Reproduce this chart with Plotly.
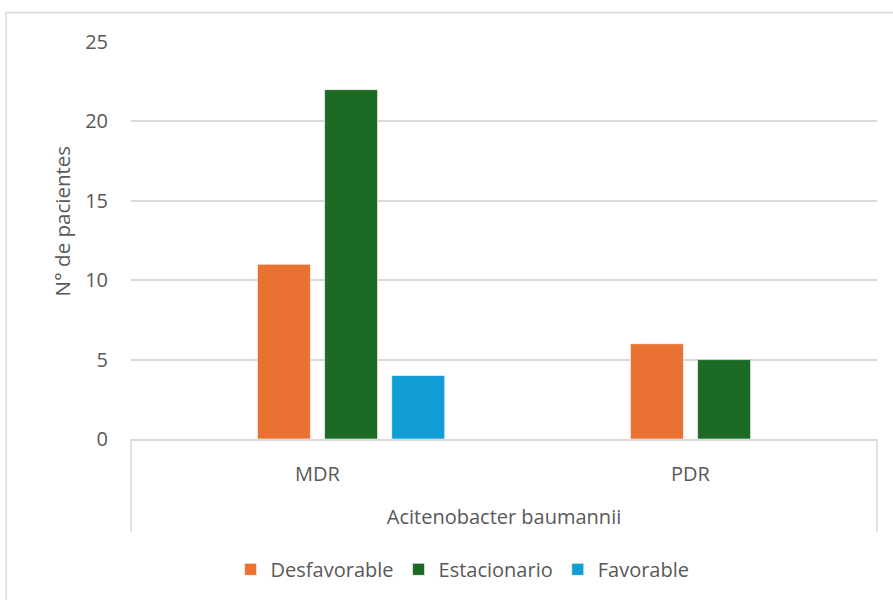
import plotly.graph_objects as go

# Resistance profile categories and the organism they belong to
organism = "Acitenobacter baumannii"
profiles = ["MDR", "PDR"]

# Number of patients per clinical evolution
desfavorable = [11, 6]
estacionario = [22, 5]
favorable = [4, None]

series = [
    ("Desfavorable", desfavorable, "#E97132"),
    ("Estacionario", estacionario, "#1B6B25"),
    ("Favorable", favorable, "#109ED5"),
]

TEXT = "#595959"
GRID = "#D9D9D9"
FONT = "Open Sans"
FS = 20

bar_w = 0.142
centers = [-0.09, 0.09, 0.27]

fig = go.Figure()
for (name, vals, color), c in zip(series, centers):
    fig.add_trace(go.Bar(
        x=profiles,
        y=vals,
        name=name,
        marker=dict(color=color, line=dict(color="rgba(255,255,255,0.6)", width=1)),
        width=bar_w,
        offset=c - bar_w / 2,
    ))

# category box under the plot: bottom axis line plus the two outer dividers
box_depth = -0.234
fig.update_layout(
    width=893, height=600,
    margin=dict(l=131, r=16, t=42, b=160),
    paper_bgcolor="white",
    plot_bgcolor="white",
    font=dict(family=FONT, size=FS, color=TEXT),
    barmode="overlay",
    showlegend=True,
    legend=dict(
        orientation="h",
        x=0.4445, xanchor="center",
        y=-0.325, yanchor="middle",
        font=dict(size=FS, color=TEXT),
        itemwidth=30,
        traceorder="normal",
    ),
    xaxis=dict(
        type="category",
        showgrid=False,
        showline=True, linecolor=GRID, linewidth=1.5,
        ticks="", ticklabelstandoff=16,
        tickfont=dict(size=FS, color=TEXT),
        title=dict(text=organism, standoff=24, font=dict(size=FS, color=TEXT)),
    ),
    yaxis=dict(
        range=[0, 25], dtick=5,
        showgrid=True, gridcolor=GRID, gridwidth=1.5,
        zeroline=False, showline=False,
        ticks="", ticklabelstandoff=22,
        tickfont=dict(size=FS, color=TEXT),
    ),
    shapes=[
        # outer chart frame
        dict(type="rect", xref="paper", yref="paper",
             x0=-0.1673, x1=1.05, y0=-0.45, y1=1.074,
             line=dict(color=GRID, width=1.5), fillcolor="rgba(0,0,0,0)", layer="below"),
        dict(type="line", xref="paper", yref="paper", x0=0, x1=0, y0=0, y1=box_depth,
             line=dict(color=GRID, width=1.5)),
        dict(type="line", xref="paper", yref="paper", x0=1, x1=1, y0=0, y1=box_depth,
             line=dict(color=GRID, width=1.5)),
    ],
    annotations=[
        dict(text="N° de pacientes", xref="paper", yref="paper",
             x=-0.092, y=0.549, textangle=-90, showarrow=False,
             font=dict(size=FS + 0.5, color=TEXT), xanchor="center", yanchor="middle"),
    ],
)

fig.write_html("out.html")
